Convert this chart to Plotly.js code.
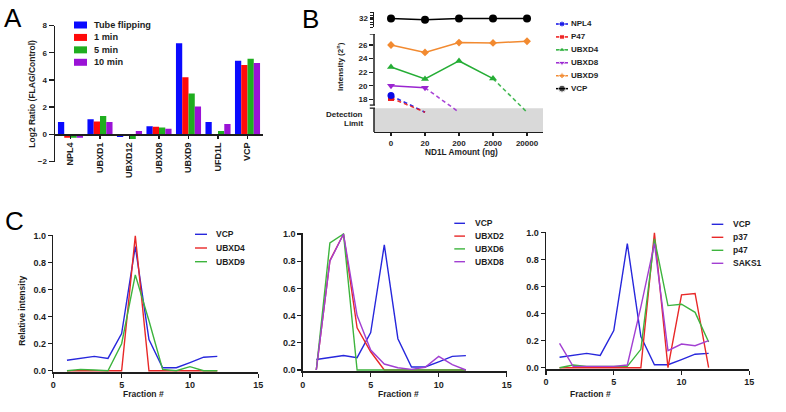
<!DOCTYPE html>
<html>
<head>
<meta charset="utf-8">
<script src="https://cdn.plot.ly/plotly-3.0.1.min.js"></script>
<style>
html,body{margin:0;padding:0;background:#ffffff;}
#chart{width:786px;height:412px;}
</style>
</head>
<body>
<div id="chart"></div>
<script>
// ---------------- Panel A data ----------------
const aCategories = ['NPL4', 'UBXD1', 'UBXD12', 'UBXD8', 'UBXD9', 'UFD1L', 'VCP'];
const aSeriesNames = ['Tube flipping', '1 min', '5 min', '10 min'];
const aTubeFlipping = [0.9, 1.1, -0.2, 0.6, 6.7, 0.9, 5.4];
const aOneMin       = [-0.25, 0.95, -0.1, 0.55, 4.2, 0, 5.1];
const aFiveMin      = [-0.25, 1.35, -0.35, 0.5, 3.0, 0.25, 5.55];
const aTenMin       = [-0.25, 0.9, 0.25, 0.4, 2.05, 0.75, 5.25];
const aYTicks = [-2, 0, 2, 4, 6, 8];

// ---------------- Panel B data ----------------
const bAmounts = ['0', '20', '200', '2000', '20000'];
const bSeriesNames = ['NPL4', 'P47', 'UBXD4', 'UBXD8', 'UBXD9', 'VCP'];
const bNPL4  = [18.55, null, null, null, null];
const bP47   = [18.2, null, null, null, null];
const bUBXD4 = [22.75, 21.0, 23.65, 21.05, null];
const bUBXD8 = [20.0, 19.7, null, null, null];
const bUBXD9 = [26.0, 24.9, 26.35, 26.3, 26.55];
const bVCP   = [32.0, 31.9, 32.0, 32.0, 32.0];
const bDetectionValue = 16.1;   // level where undetected points are drawn
const bDetectionTop = 16.7;     // top of the detection-limit band
const bYTicks = [18, 20, 22, 24, 26];
const bTopTicks = [32];

// ---------------- Panel C data ----------------
const cFractions = [1, 2, 3, 4, 5, 6, 7, 8, 9, 10, 11, 12];
const cVCP   = [0.077, 0.089, 0.106, 0.091, 0.275, 0.92, 0.23, 0.022, 0.022, 0.06, 0.1, 0.106];
const cUBXD4 = [0, 0, 0, 0, 0, 1.0, 0, 0, 0, 0, 0, 0];
const cUBXD9 = [0, 0.01, 0.005, 0, 0.2, 0.71, 0.37, 0.01, 0, 0.03, 0, 0];
const cUBXD2 = [0, 0.805, 1.0, 0.31, 0.134, 0, 0, 0, 0, 0, 0, 0];
const cUBXD6 = [0, 0.934, 1.0, 0, 0, 0, 0, 0, 0, 0, 0, 0];
const cUBXD8 = [0, 0.8, 1.0, 0.4, 0.147, 0.044, 0.017, 0.005, 0.02, 0.1, 0.04, 0];
const cP37   = [0, 0, 0, 0, 0, 0, 0, 1.0, 0, 0.54, 0.55, 0];
const cP47   = [0, 0.02, 0.01, 0.01, 0.01, 0.01, 0.136, 0.955, 0.46, 0.47, 0.41, 0.19];
const cSAKS1 = [0.18, 0.01, 0.01, 0.01, 0.01, 0.02, 0.45, 0.92, 0.126, 0.175, 0.163, 0.2];
const cYTicks = [0, 0.2, 0.4, 0.6, 0.8, 1.0];
const cXTicks = [0, 5, 10, 15];

// ---------------- helpers ----------------
const W = 786, H = 412;
const px = v => v / W;
const py = v => 1 - v / H;
const FONT = 'Liberation Sans, Arial, Helvetica, sans-serif';
const AX = '#1e1e1e';
const TXT = '#1e1e1e';
function domY(zeroPix, unitPix, rMin, rMax) {
  return [py(zeroPix - rMin * unitPix), py(zeroPix - rMax * unitPix)];
}
function bold(size) { return {family: FONT, size: size, color: TXT, weight: 'bold'}; }
const baseAxis = {
  showgrid: false, zeroline: false, showline: true, linecolor: AX, linewidth: 1.5,
  ticks: 'outside', tickcolor: AX, tickwidth: 1.3, ticklen: 4,
  tickfont: bold(8.5), fixedrange: true
};

const colA = ['#0a0aff', '#ff0a0a', '#1fae1f', '#9a12d6'];
const colB = ['#0a0ae6', '#ee1515', '#25ad35', '#9a25d0', '#f28a30', '#000000'];
const symB = ['circle', 'square', 'triangle-up', 'triangle-down', 'diamond', 'circle'];
const sizeB = [7, 6, 7, 7, 6, 8];
const colC = {blue: '#2727dc', red: '#e82828', green: '#3db43d', purple: '#a23fd2'};

const traces = [];
const shapes = [];
const annotations = [];

function ann(text, x, y, o) {
  annotations.push(Object.assign({
    text: text, x: px(x), y: py(y), xref: 'paper', yref: 'paper',
    showarrow: false, xanchor: 'center', yanchor: 'middle', font: bold(8.5)
  }, o || {}));
}

// ---------------- Panel A ----------------
const aSeries = [aTubeFlipping, aOneMin, aFiveMin, aTenMin];
aSeries.forEach((vals, i) => {
  traces.push({type: 'bar', x: aCategories, y: vals, name: aSeriesNames[i],
    marker: {color: colA[i], line: {width: 0}}, xaxis: 'x', yaxis: 'y', showlegend: false});
});
// legend A
const aLegRow0 = 25, aLegGap = 12.43;
aSeriesNames.forEach((n, i) => {
  const yc = aLegRow0 + i * aLegGap;
  shapes.push({type: 'rect', xref: 'paper', yref: 'paper', x0: px(74), x1: px(87),
    y0: py(yc + 3.5), y1: py(yc - 3.5), fillcolor: colA[i], line: {width: 0}});
  ann(n, 92, yc, {xanchor: 'left', font: bold(9.2)});
});

// ---------------- Panel B ----------------
const bSeries = [bNPL4, bP47, bUBXD4, bUBXD8, bUBXD9, bVCP];
bSeries.forEach((vals, i) => {
  const yax = (i === 5) ? 'y3' : 'y2';
  // dashed line to detection limit
  let last = -1;
  vals.forEach((v, k) => { if (v !== null) last = k; });
  if (last >= 0 && last < bAmounts.length - 1) {
    traces.push({type: 'scatter', mode: 'lines', x: [bAmounts[last], bAmounts[last + 1]],
      y: [vals[last], bDetectionValue], xaxis: 'x2', yaxis: yax, showlegend: false,
      line: {color: colB[i], width: 1.6, dash: '4px,3px'}, opacity: 0.85});
  }
});
[1, 0, 2, 3, 4, 5].forEach(i => {
  const vals = bSeries[i];
  const yax = (i === 5) ? 'y3' : 'y2';
  traces.push({type: 'scatter', mode: 'lines+markers', x: bAmounts, y: vals, name: bSeriesNames[i],
    xaxis: 'x2', yaxis: yax, showlegend: false, connectgaps: false,
    line: {color: colB[i], width: 1.5},
    marker: {color: colB[i], symbol: symB[i], size: sizeB[i]}});
});
// detection band and broken axis
const bRange = [13.19, 27.62];
shapes.push({type: 'rect', xref: 'x2 domain', yref: 'y2', x0: 0, x1: 1, y0: bRange[0], y1: bDetectionTop,
  fillcolor: '#d9d9d9', line: {width: 0}, layer: 'below'});
shapes.push({type: 'line', xref: 'x2 domain', yref: 'y2', x0: 0, x1: 0, y0: 17.15, y1: bRange[1],
  line: {color: AX, width: 1.5}});
shapes.push({type: 'line', xref: 'x2 domain', yref: 'y2', x0: 0, x1: 0, y0: bRange[0], y1: bDetectionTop,
  line: {color: AX, width: 1.5}});
shapes.push({type: 'line', xref: 'x2 domain', yref: 'y2', x0: -0.025, x1: 0.006, y0: bRange[1], y1: bRange[1],
  line: {color: AX, width: 1.3}});
shapes.push({type: 'line', xref: 'x2 domain', yref: 'y2', x0: -0.025, x1: 0.006, y0: 17.15, y1: 17.15,
  line: {color: AX, width: 1.3}});
shapes.push({type: 'line', xref: 'x2 domain', yref: 'y2', x0: -0.025, x1: 0.006, y0: bDetectionTop, y1: bDetectionTop,
  line: {color: AX, width: 1.3}});
// legend B (small hidden subplot in pixel units)
const bLegRow0 = 24, bLegGap = 12.93;
bSeriesNames.forEach((n, i) => {
  const yc = bLegRow0 + i * bLegGap;
  traces.push({type: 'scatter', mode: 'lines+markers', x: [556, 562, 568], y: [yc, yc, yc],
    xaxis: 'x6', yaxis: 'y7', showlegend: false, hoverinfo: 'skip',
    line: {color: colB[i], width: 1.5},
    marker: {color: colB[i], symbol: symB[i], size: [0, sizeB[i] - 1, 0]}});
  ann(n, 569, yc, {xanchor: 'left', font: bold(8)});
});
ann('Intensity (2<sup>n</sup>)', 340, 67, {textangle: -90, font: bold(8)});
ann('ND1L Amount (ng)', 461, 151.5, {font: bold(8.3)});
ann('Detection', 365, 114.3, {xanchor: 'right', font: bold(8)});
ann('Limit', 365, 123.7, {xanchor: 'right', font: bold(8)});

// ---------------- Panel C ----------------
const cPanels = [
  {xa: 'x3', ya: 'y4', names: ['VCP', 'UBXD4', 'UBXD9'], data: [cVCP, cUBXD4, cUBXD9],
   cols: [colC.blue, colC.red, colC.green], leg: {x0: 195, x1: 207, tx: 214, y0: 234.3, gap: 13.7}},
  {xa: 'x4', ya: 'y5', names: ['VCP', 'UBXD2', 'UBXD6', 'UBXD8'], data: [cVCP, cUBXD2, cUBXD6, cUBXD8],
   cols: [colC.blue, colC.red, colC.green, colC.purple], leg: {x0: 454.3, x1: 465, tx: 472.5, y0: 223.3, gap: 12.8}},
  {xa: 'x5', ya: 'y6', names: ['VCP', 'p37', 'p47', 'SAKS1'], data: [cVCP, cP37, cP47, cSAKS1],
   cols: [colC.blue, colC.red, colC.green, colC.purple], leg: {x0: 711.7, x1: 723.3, tx: 731, y0: 224.3, gap: 13}}
];
cPanels.forEach(p => {
  p.data.forEach((vals, i) => {
    traces.push({type: 'scatter', mode: 'lines', x: cFractions, y: vals, name: p.names[i],
      xaxis: p.xa, yaxis: p.ya, showlegend: false, line: {color: p.cols[i], width: 1.4}});
    const yc = p.leg.y0 + i * p.leg.gap;
    shapes.push({type: 'line', xref: 'paper', yref: 'paper', x0: px(p.leg.x0), x1: px(p.leg.x1),
      y0: py(yc), y1: py(yc), line: {color: p.cols[i], width: 1.4}});
    ann(p.names[i], p.leg.tx, yc, {xanchor: 'left', font: bold(8.5)});
  });
});
ann('Fraction #', 143.3, 394, {font: bold(8.5)});
ann('Fraction #', 398.7, 394, {font: bold(8.5)});
ann('Fraction #', 590.8, 394, {font: bold(8.5)});
ann('Relative intensity', 21.7, 311, {textangle: -90, font: bold(8.5)});
ann('Log2 Ratio (FLAG/Control)', 31.7, 94, {textangle: -90, font: bold(8.5)});

// panel letters
const letterFont = {family: FONT, size: 26, color: '#000'};
ann('A', 12.5, 18, {font: letterFont});
ann('B', 310, 18.5, {font: letterFont});
ann('C', 14.2, 220.5, {font: letterFont});

// ---------------- axes ----------------
const cRangeY = [-0.01, 1.008];
const layout = {
  width: W, height: H, margin: {l: 0, r: 0, t: 0, b: 0},
  paper_bgcolor: '#ffffff', plot_bgcolor: 'rgba(0,0,0,0)',
  showlegend: false, barmode: 'group', bargap: 0.15, bargroupgap: 0,
  font: {family: FONT, color: TXT},
  xaxis: Object.assign({}, baseAxis, {domain: [px(55), px(263)], range: [-0.525, 6.525], type: 'category',
    anchor: 'free', position: py(134.3), tickangle: -90, ticklen: 3, tickfont: bold(9)}),
  yaxis: Object.assign({}, baseAxis, {domain: domY(134.3, 13.6, -2, 8), range: [-2, 8], anchor: 'x',
    tickvals: aYTicks, ticklen: 5, tickfont: bold(8)}),
  xaxis2: Object.assign({}, baseAxis, {domain: [px(374), px(543)], range: [-0.5, 4.47], type: 'category',
    categoryorder: 'array', categoryarray: bAmounts, anchor: 'y2', ticklen: 2.5, tickfont: bold(8)}),
  yaxis2: Object.assign({}, baseAxis, {domain: domY(221.54, 6.79, bRange[0], bRange[1]), range: bRange,
    anchor: 'x2', showline: false, tickvals: bYTicks, tickfont: bold(8)}),
  yaxis3: Object.assign({}, baseAxis, {domain: domY(402.6, 12, 31.3, 32.55), range: [31.3, 32.55],
    anchor: 'x2', tickvals: bTopTicks, tickfont: bold(8), ticklen: 3,
    minor: {ticks: 'outside', tickmode: 'linear', tick0: 31.3, dtick: 0.2, ticklen: 3, tickcolor: AX, tickwidth: 1}}),
  xaxis3: Object.assign({}, baseAxis, {domain: [px(53.3), px(258.3)], range: [0, 15], tickvals: cXTicks, anchor: 'y4', tickfont: bold(9)}),
  yaxis4: Object.assign({}, baseAxis, {domain: domY(370.7, 135, cRangeY[0], cRangeY[1]), range: cRangeY, tickvals: cYTicks, tickformat: '.1f', anchor: 'x3', tickfont: bold(9)}),
  xaxis4: Object.assign({}, baseAxis, {domain: [px(302.7), px(506.7)], range: [0, 15], tickvals: cXTicks, anchor: 'y5', tickfont: bold(9)}),
  yaxis5: Object.assign({}, baseAxis, {domain: domY(370, 136, cRangeY[0], cRangeY[1]), range: cRangeY, tickvals: cYTicks, tickformat: '.1f', anchor: 'x4', tickfont: bold(9)}),
  xaxis5: Object.assign({}, baseAxis, {domain: [px(546), px(749.3)], range: [0, 15], tickvals: cXTicks, anchor: 'y6', tickfont: bold(9)}),
  yaxis6: Object.assign({}, baseAxis, {domain: domY(367.7, 135, cRangeY[0], cRangeY[1]), range: cRangeY, tickvals: cYTicks, tickformat: '.1f', anchor: 'x5', tickfont: bold(9)}),
  xaxis6: {domain: [px(550), px(620)], range: [550, 620], visible: false, anchor: 'y7', fixedrange: true},
  yaxis7: {domain: [py(100), py(14)], range: [100, 14], visible: false, anchor: 'x6', fixedrange: true},
  shapes: shapes,
  annotations: annotations
};

Plotly.newPlot('chart', traces, layout, {staticPlot: true, displayModeBar: false});
</script>
</body>
</html>
